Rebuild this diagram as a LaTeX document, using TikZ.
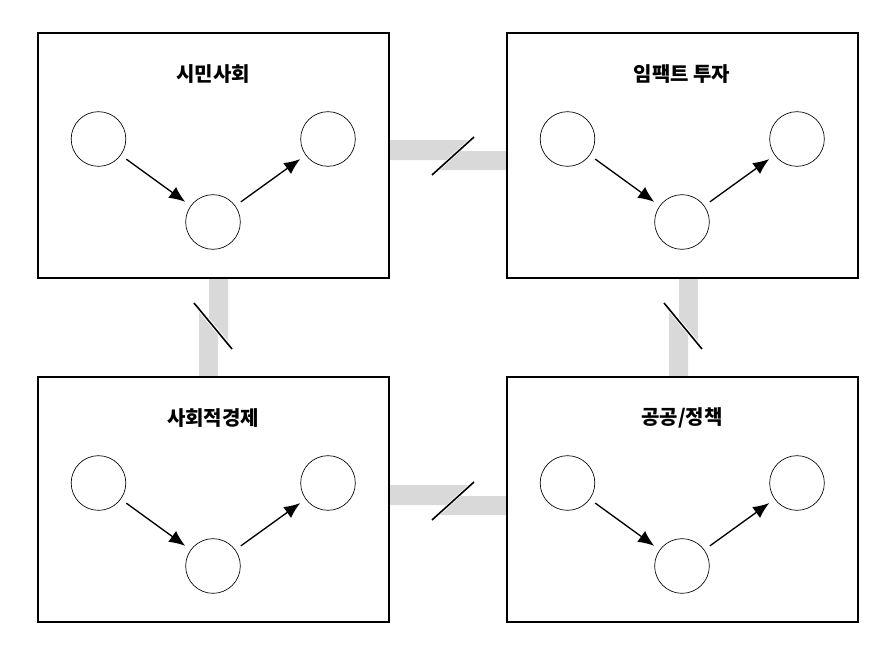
\documentclass[tikz,border=0pt]{standalone}
\usepackage{fontspec}
\newfontfamily\cjk{Noto Sans CJK KR}
\begin{document}
\begin{tikzpicture}[x=0.75pt,y=-0.75pt,
  box/.style={draw,line width=1.1pt,minimum width=263.25pt,minimum height=183.75pt,inner sep=0},
  circ/.style={draw,circle,line width=0.5pt,minimum size=41pt,inner sep=0},
  arr/.style={line width=1pt,-{Latex[length=12pt,width=10pt]}},
  band/.style={fill=black!15},
  slash/.style={line width=1.2pt},
  ttl/.style={font=\cjk\bfseries\fontsize{15}{18}\selectfont}]
\usetikzlibrary{arrows.meta}
\useasboundingbox (0,0) rectangle (894,664);
% bands
\draw[band,draw=none] (389,140)--(468,140)--(446,160)--(389,160)--cycle;
\draw[band,draw=none] (461,151)--(507,151)--(507,170)--(440,170)--cycle;
\draw[band,draw=none] (389,485)--(468,485)--(446,505)--(389,505)--cycle;
\draw[band,draw=none] (461,496)--(507,496)--(507,515)--(440,515)--cycle;
\draw[band,draw=none] (209,278)--(228,278)--(228,341)--(209,318)--cycle;
\draw[band,draw=none] (199,312)--(218,335)--(218,377)--(199,377)--cycle;
\draw[band,draw=none] (679,278)--(698,278)--(698,341)--(679,318)--cycle;
\draw[band,draw=none] (669,312)--(688,335)--(688,377)--(669,377)--cycle;
\coordinate (s1a) at (432,175); \coordinate (s1b) at (474,137);
\coordinate (s2a) at (432,520); \coordinate (s2b) at (474,482);
\coordinate (s3a) at (194,303); \coordinate (s3b) at (232,349);
\coordinate (s4a) at (664,303); \coordinate (s4b) at (702,349);
\draw[slash] (s1a)--(s1b); \draw[slash] (s2a)--(s2b);
\draw[slash] (s3a)--(s3b); \draw[slash] (s4a)--(s4b);
\foreach \n/\dx/\dy/\t in {a/0/0/{시민사회}, b/469/0/{임팩트 투자}, c/0/344/{사회적경제}, d/469/344/{공공/정책}}{
  \node[box] (\n box) at (213.5+\dx,155.5+\dy) {};
  \node[ttl] (\n t) at (213+\dx,74+\dy) {\t};
  \node[circ] (\n 1) at (98.5+\dx,139+\dy) {};
  \node[circ] (\n 2) at (213+\dx,222+\dy) {};
  \node[circ] (\n 3) at (328+\dx,139+\dy) {};
  \draw[arr,shorten <=5pt,shorten >=5pt] (\n 1)--(\n 2);
  \draw[arr,shorten <=5pt,shorten >=5pt] (\n 2)--(\n 3);
}
\end{tikzpicture}
\end{document}
